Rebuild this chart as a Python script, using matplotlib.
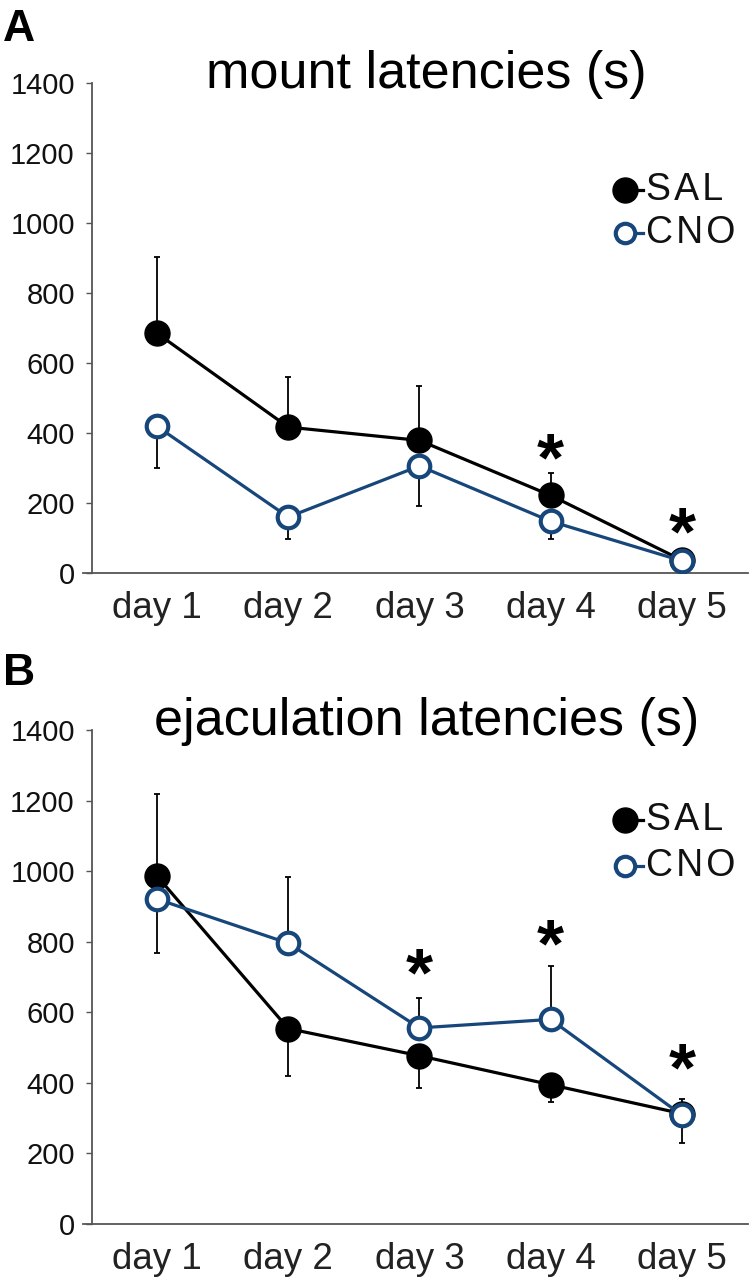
import matplotlib
matplotlib.use('Agg')
import matplotlib.pyplot as plt
import numpy as np

plt.rcParams['font.family'] = ['Liberation Sans', 'DejaVu Sans']

# ------------------------------------------------------------
# data
days = ['day 1', 'day 2', 'day 3', 'day 4', 'day 5']
groups = ['SAL', 'CNO']

# A - mount latencies
mount_sal = [685, 417, 379, 222, 37]
mount_sal_err = [219, 144, 155, 63, 0]        # drawn upward
mount_cno = [419, 160, 306, 148, 35]
mount_cno_err = [120, 62, 115, 50, 0]         # drawn downward
mount_stars = [3, 4]                          # index of days with *
mount_star_y = [317, 105]

# B - ejaculation latencies
ejac_sal = [986, 554, 477, 395, 313]
ejac_sal_lo = [0, 134, 90, 50, 0]
ejac_sal_hi = [232, 0, 0, 0, 42]
ejac_cno = [921, 796, 556, 580, 309]
ejac_cno_lo = [153, 0, 0, 0, 80]
ejac_cno_hi = [0, 188, 84, 152, 0]
ejac_stars = [2, 3, 4]
ejac_star_y = [700, 782, 431]

navy = '#17467a'

fig = plt.figure(figsize=(7.51, 12.8), dpi=100)
axA = fig.add_axes([0.1105, 0.5523, 0.8855, 0.3828])
axB = fig.add_axes([0.1105, 0.0437, 0.8855, 0.3859])


def draw_panel(ax, sal, sal_err, cno, cno_err, star_idx, star_y, title,
               letter, letter_y, title_y, leg_y):
    x = np.arange(1, len(days) + 1)
    ax.errorbar(x, sal, yerr=sal_err, fmt='none', ecolor='black',
                elinewidth=1.3, capsize=2.5, capthick=1.3, zorder=2)
    ax.errorbar(x, cno, yerr=cno_err, fmt='none', ecolor='black',
                elinewidth=1.3, capsize=2.5, capthick=1.3, zorder=2)
    ax.plot(x, sal, '-o', color='black', lw=2.3, ms=18,
            markerfacecolor='black', markeredgecolor='black', zorder=3)
    ax.plot(x, cno, '-o', color=navy, lw=2.3, ms=15.5, markeredgewidth=3,
            markerfacecolor='white', markeredgecolor=navy, zorder=4)
    for i, yy in zip(star_idx, star_y):
        ax.text(x[i], yy, '*', ha='center', va='center',
                fontsize=50, fontweight='bold')

    ax.set_xlim(0.435, 5.505)
    ax.set_ylim(0, 1400)
    ax.set_yticks(np.arange(0, 1401, 200))
    ax.set_xticks(x)
    ax.set_xticklabels(days, fontsize=26.5, color='#222222')
    ax.tick_params(axis='x', length=0, pad=13)
    ax.tick_params(axis='y', labelsize=21, length=4, width=1,
                   color='#555555', pad=8, labelcolor='#111111')
    for s in ['top', 'right']:
        ax.spines[s].set_visible(False)
    for s in ['left', 'bottom']:
        ax.spines[s].set_color('#555555')
        ax.spines[s].set_linewidth(1.3)
    ax.spines['left'].set_position(('data', 0.5))

    ax.text(0.516, title_y, title, transform=ax.transAxes, fontsize=37.5,
            ha='center', va='baseline')
    ax.text(-0.12, letter_y, letter, transform=ax.transAxes, fontsize=32,
            fontweight='bold', va='baseline', ha='left')

    # legend: marker with a short stub, then the label
    styles = [dict(color='black', ms=18, markerfacecolor='black',
                   markeredgecolor='black'),
              dict(color=navy, ms=14, markeredgewidth=3,
                   markerfacecolor='white', markeredgecolor=navy)]
    for lbl, st, yy in zip(groups, styles, leg_y):
        ax.plot([0.815, 0.842], [yy, yy], lw=2.3, color=st['color'],
                transform=ax.transAxes, clip_on=False, zorder=5)
        ax.plot([0.815], [yy], 'o', transform=ax.transAxes, clip_on=False,
                zorder=6, **st)
        ax.text(0.846, yy, '\u200a'.join(lbl), transform=ax.transAxes,
                fontsize=27, va='center', ha='left', color='#111111')


draw_panel(axA, mount_sal, [np.zeros(5), mount_sal_err], mount_cno,
           [mount_cno_err, np.zeros(5)], mount_stars, mount_star_y,
           'mount latencies (s)', 'A', 1.086, 0.99, [0.782, 0.694])
draw_panel(axB, ejac_sal, [ejac_sal_lo, ejac_sal_hi], ejac_cno,
           [ejac_cno_lo, ejac_cno_hi], ejac_stars, ejac_star_y,
           'ejaculation latencies (s)', 'B', 1.091, 0.99, [0.818, 0.725])

fig.savefig('out.png', dpi=100)
